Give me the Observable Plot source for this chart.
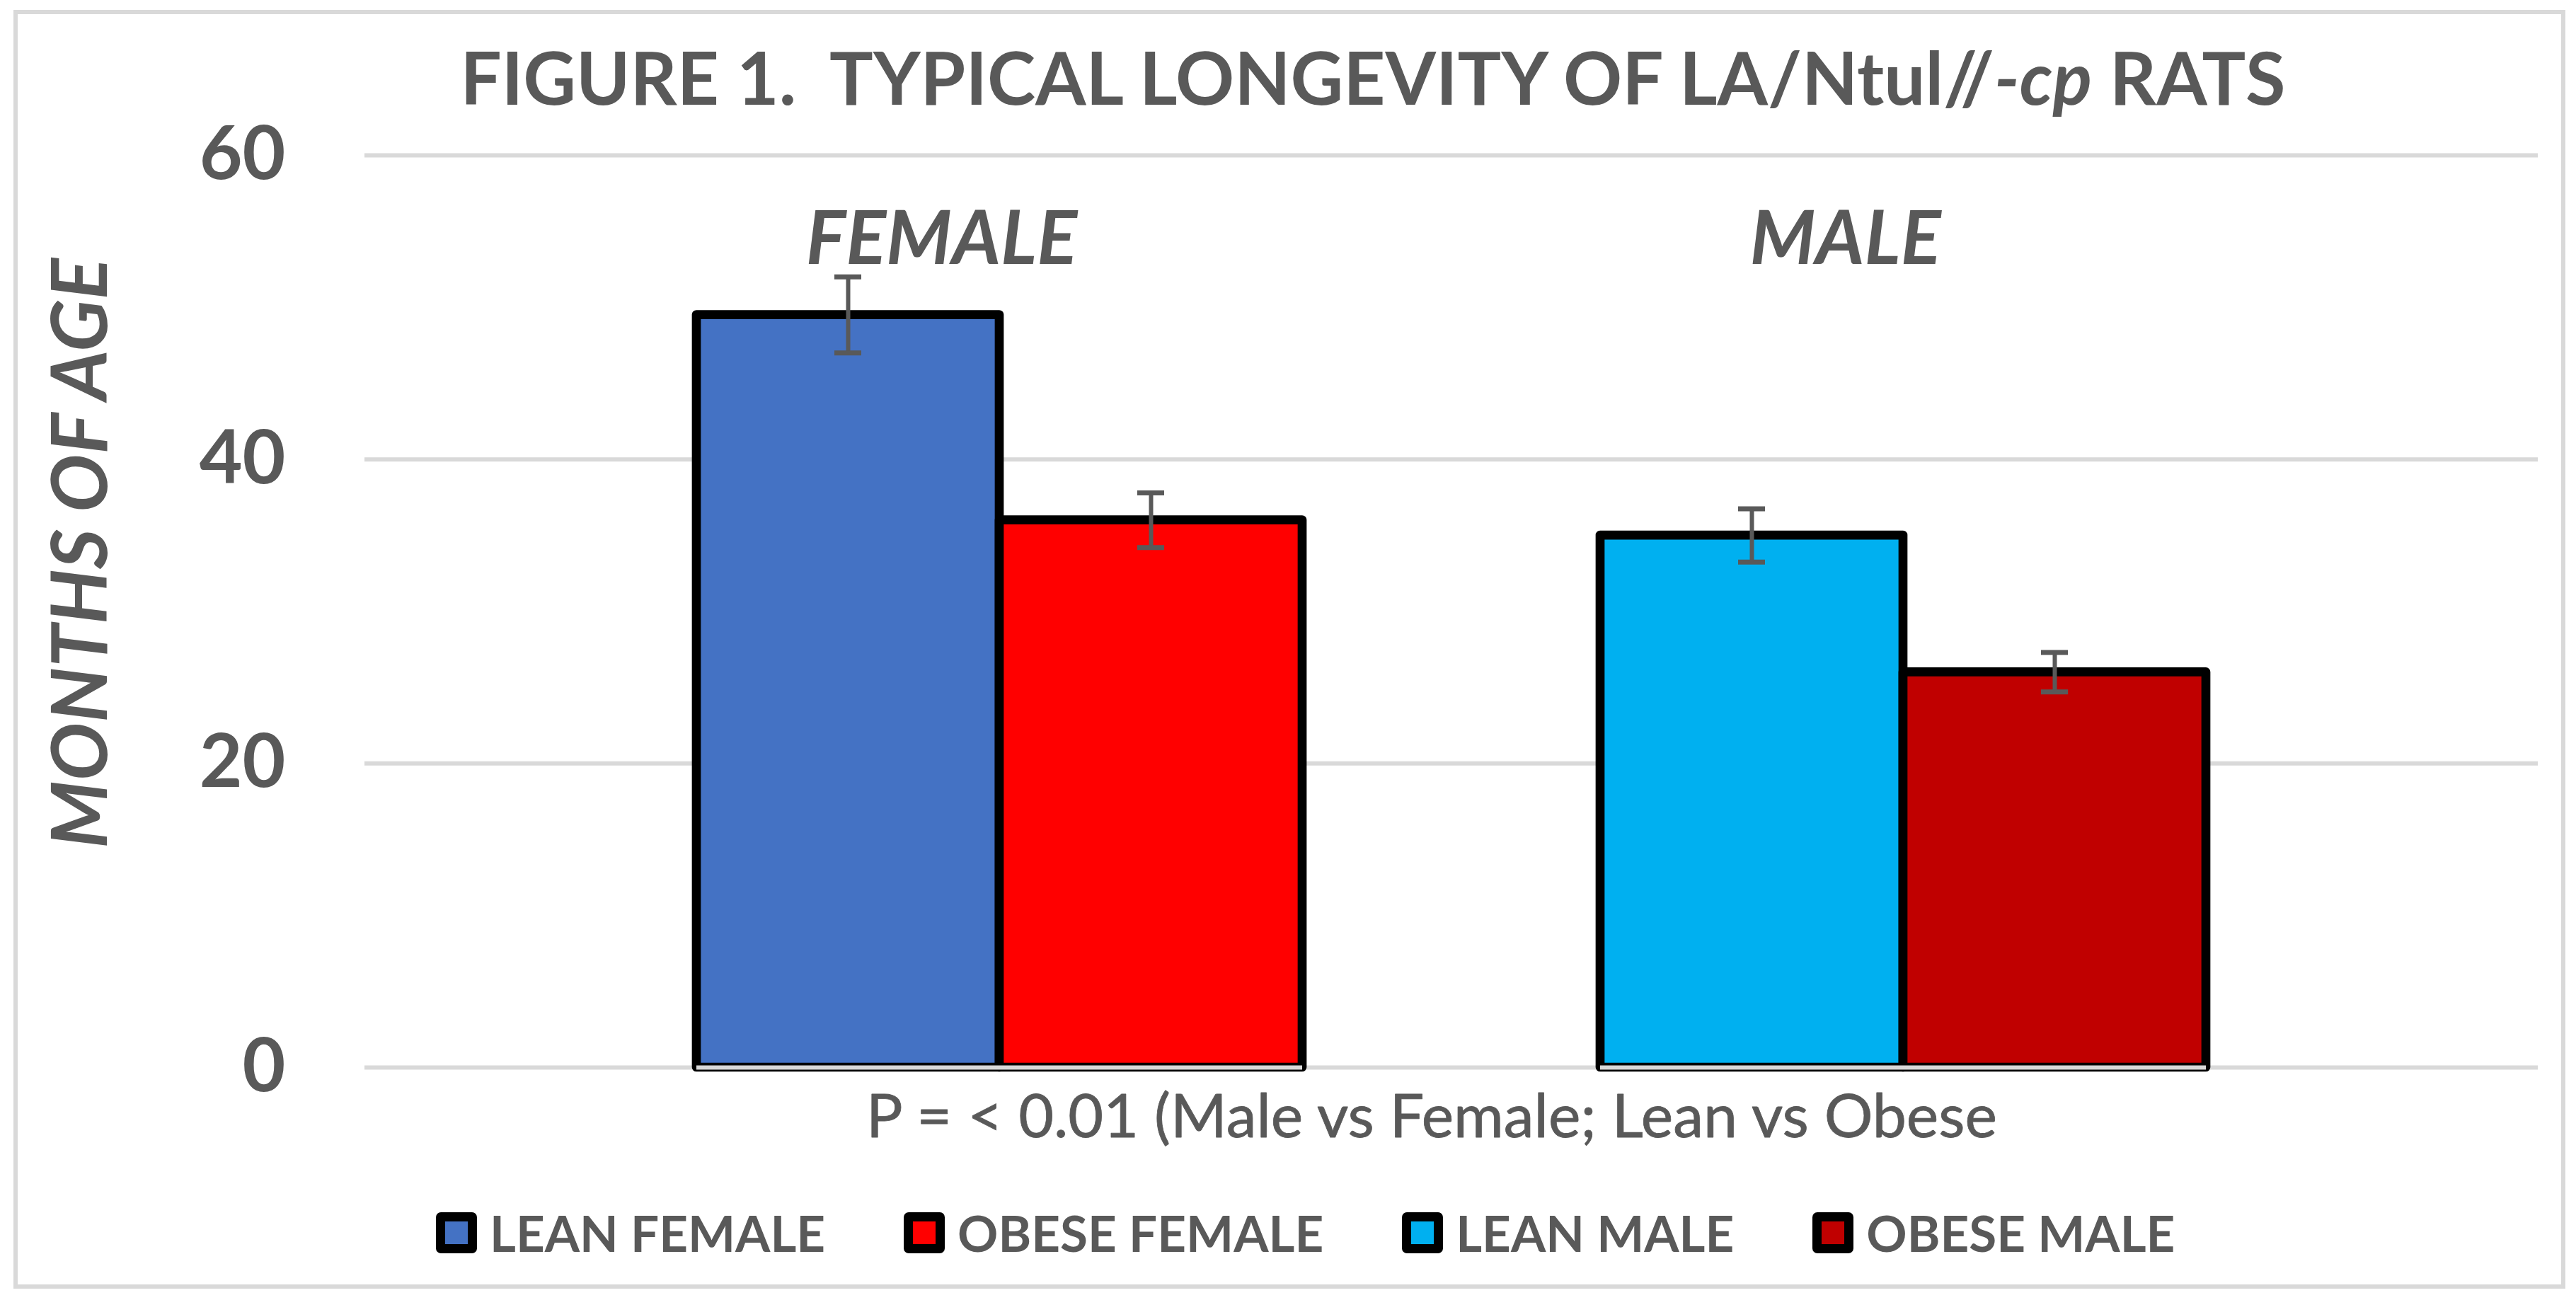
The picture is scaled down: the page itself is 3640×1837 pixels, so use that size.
<!DOCTYPE html>
<html>
<head>
<meta charset="utf-8">
<script src="https://cdn.jsdelivr.net/npm/d3@7"></script>
<script src="https://cdn.jsdelivr.net/npm/@observablehq/plot@0.6"></script>
<style>
  html, body { margin: 0; padding: 0; background: #fff; }
  #chart { position: relative; width: 3640px; height: 1837px; overflow: hidden; font-family: Lato, "Noto Sans", sans-serif; color: #595959; }
  #border { position: absolute; left: 19px; top: 14px; width: 3606px; height: 1807px; box-sizing: border-box; border: 6px solid #d9d9d9; }
  .layer { position: absolute; left: 0; top: 0; }
  #title { position: absolute; top: 38px; left: 1940px; transform: translateX(-50%); white-space: pre; font-weight: 700; font-size: 103px; line-height: 140px; }
  #ylabel { position: absolute; left: 109px; top: 782px; transform: translate(-50%, -50%) rotate(-90deg); white-space: nowrap; font-weight: 700; font-style: italic; font-size: 109px; line-height: 120px; }
  #legend { position: absolute; top: 1702px; left: 616px; display: flex; align-items: center; white-space: nowrap; }
  .item { display: flex; align-items: center; margin-right: 111px; }
  .sw { width: 32px; height: 32px; border: 13.5px solid #000; border-radius: 7px; margin-right: 18px; }
  .lab { font-weight: 700; font-size: 71px; line-height: 80px; }
</style>
</head>
<body>
<div id="chart">
  <div id="border"></div>
  <div id="bottomLayer" class="layer"></div>
  <div id="topLayer" class="layer"></div>
  <div id="title"></div>
  <div id="ylabel"></div>
  <div id="legend"></div>
</div>
<script>
// ---- data ----
const titleMain = "FIGURE 1.  TYPICAL LONGEVITY OF LA/Ntul//";
const titleItalic = "-cp";
const titleEnd = " RATS";
const yLabel = "MONTHS OF AGE";
const pText = "P = < 0.01 (Male vs Female; Lean vs Obese";
const sexes = ["FEMALE", "MALE"];
const types = ["LEAN", "OBESE"];
const series = ["LEAN FEMALE", "OBESE FEMALE", "LEAN MALE", "OBESE MALE"];
const seriesSex = ["FEMALE", "FEMALE", "MALE", "MALE"];
const seriesType = ["LEAN", "OBESE", "LEAN", "OBESE"];
const values = [49.5, 36.0, 35.0, 26.0];
const errors = [2.5, 1.8, 1.75, 1.3];
const colors = ["#4472c4", "#ff0000", "#00b0f0", "#c00000"];
const yTicks = [0, 20, 40, 60];

const rows = series.map((s, i) => ({
  label: s, sex: seriesSex[i], type: seriesType[i],
  value: values[i], lo: values[i] - errors[i], hi: values[i] + errors[i]
}));

const W = 3640, H = 1650, mL = 515, mR = 54, mT = 219, mB = 142;
const gray = "#595959";

// ---- bottom layer: gridlines, y axis, p-value note ----
const plotBottom = Plot.plot({
  width: W, height: H, marginLeft: mL, marginRight: mR, marginTop: mT, marginBottom: mB,
  style: { background: "transparent", fontFamily: "Lato, 'Noto Sans', sans-serif", color: gray },
  y: { domain: [0, 60], axis: null },
  marks: [
    Plot.ruleY(yTicks, { stroke: "#d9d9d9", strokeWidth: 6 }),
    Plot.axisY({ ticks: yTicks, tickSize: 0, tickPadding: 112, fontSize: 105, fontWeight: "bold", fill: gray, label: null }),
    Plot.text([pText], { frameAnchor: "bottom", dy: 98, dx: -28, fontSize: 86, fill: gray, stroke: gray, strokeWidth: 0.8, text: d => d })
  ]
});
document.getElementById("bottomLayer").appendChild(plotBottom);

// ---- top layer: bars, error bars, group labels ----
const plotTop = Plot.plot({
  width: W, height: H, marginLeft: mL, marginRight: mR, marginTop: mT, marginBottom: mB,
  style: { background: "transparent", fontFamily: "Lato, 'Noto Sans', sans-serif", color: gray },
  fx: { domain: sexes, paddingInner: 0.33, paddingOuter: 0.3665, axis: null, label: null },
  x: { domain: types, padding: 0, axis: null },
  y: { domain: [0, 60], axis: null },
  color: { domain: series, range: colors },
  marks: [
    Plot.barY(rows, { fx: "sex", x: "type", y: "value", fill: "label", stroke: "#000", strokeWidth: 12.7, strokeLinejoin: "round" }),
    Plot.ruleY([0], { stroke: "#d9d9d9", strokeWidth: 6 }),
    Plot.ruleX(rows, { fx: "sex", x: "type", y1: "lo", y2: "hi", stroke: gray, strokeWidth: 6 }),
    Plot.tickY(rows, { fx: "sex", x: "type", y: "lo", inset: 195, stroke: gray, strokeWidth: 7 }),
    Plot.tickY(rows, { fx: "sex", x: "type", y: "hi", inset: 195, stroke: gray, strokeWidth: 7 }),
    Plot.text(sexes, { fx: d => d, text: d => d, frameAnchor: "top", dy: 78, dx: -82, fontSize: 106, fontWeight: "bold", fontStyle: "italic", fill: gray })
  ]
});
document.getElementById("topLayer").appendChild(plotTop);

// ---- title, y label, legend ----
const t = document.getElementById("title");
t.appendChild(document.createTextNode(titleMain));
const it = document.createElement("i"); it.textContent = titleItalic; t.appendChild(it);
t.appendChild(document.createTextNode(titleEnd));
document.getElementById("ylabel").textContent = yLabel;

const lg = document.getElementById("legend");
series.forEach((s, i) => {
  const item = document.createElement("div"); item.className = "item";
  const sw = document.createElement("div"); sw.className = "sw"; sw.style.background = colors[i];
  const lab = document.createElement("div"); lab.className = "lab"; lab.textContent = s;
  item.appendChild(sw); item.appendChild(lab); lg.appendChild(item);
});
</script>
</body>
</html>
